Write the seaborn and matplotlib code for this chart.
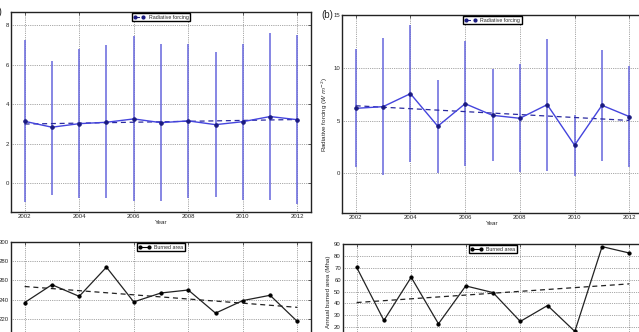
import numpy as np
import matplotlib
matplotlib.use('Agg')
import matplotlib.pyplot as plt
from matplotlib.lines import Line2D
import seaborn as sns

years = list(range(2002, 2013))

# (a) radiative forcing, with upper / lower ends of the error bars
rf_a = [3.14, 2.84, 3.02, 3.09, 3.26, 3.07, 3.16, 2.97, 3.12, 3.38, 3.22]
rf_a_hi = [7.27, 6.19, 6.80, 6.99, 7.46, 7.04, 7.05, 6.67, 7.07, 7.61, 7.51]
rf_a_lo = [-0.95, -0.57, -0.74, -0.76, -0.91, -0.88, -0.73, -0.69, -0.86, -0.84, -1.06]

# (b) radiative forcing
rf_b = [6.16, 6.32, 7.55, 4.47, 6.60, 5.50, 5.22, 6.51, 2.67, 6.45, 5.38]
rf_b_hi = [11.76, 12.80, 14.03, 8.84, 12.52, 9.91, 10.35, 12.74, 5.50, 11.70, 10.19]
rf_b_lo = [0.60, -0.13, 1.04, 0.00, 0.66, 1.13, 0.09, 0.22, -0.22, 1.19, 0.57]

# burned area, lower panels
burn_a = [236.9, 255.5, 243.4, 273.8, 237.6, 246.9, 250.0, 225.9, 239.0, 244.5, 217.2]
burn_b = [70.4, 25.6, 62.0, 22.8, 54.7, 49.1, 24.8, 38.2, 16.4, 87.8, 82.4]

sns.set_style('white', {'xtick.direction': 'in', 'ytick.direction': 'in'})
plt.rcParams['font.family'] = ['Liberation Sans', 'DejaVu Sans']
plt.rcParams['mathtext.fontset'] = 'dejavusans'

W, H = 639, 332
fig = plt.figure(figsize=(W / 100, H / 100), dpi=100)


def box(left, top, width, height):
    return [left / W, (H - top - height) / H, width / W, height / H]


def style(ax, ylim, yticks):
    ax.set_xlim(2001.5, 2012.5)
    ax.set_ylim(*ylim)
    ax.set_xticks(range(2002, 2013, 2))
    ax.set_yticks(yticks)
    ax.grid(True, color='#555555', linestyle=':', linewidth=0.5)
    ax.tick_params(labelsize=4.3, pad=1.5, length=2.5, width=0.5,
                   direction='in', top=True, right=True)
    for s in ax.spines.values():
        s.set_color('#222222')
        s.set_linewidth(1.0)


def forcing_panel(ax, vals, hi, lo, ylim, yticks, tag):
    vals = np.array(vals)
    yerr = [vals - np.array(lo), np.array(hi) - vals]
    ax.errorbar(years, vals, yerr=yerr, fmt='none', ecolor='#6666dd',
                elinewidth=1.1, capsize=0, zorder=2)
    sns.lineplot(x=years, y=vals, ax=ax, color='#4444dd', linewidth=1.0,
                 marker='o', markersize=2.5, markerfacecolor='#1a1a80',
                 markeredgecolor='#1a1a80', zorder=3)
    sns.regplot(x=years, y=vals, ax=ax, scatter=False, ci=None, truncate=True,
                line_kws=dict(color='#2a2aa0', linestyle='--', linewidth=0.9, dashes=(4, 3)))
    style(ax, ylim, yticks)
    ax.set_xlabel('Year', fontsize=4.5, labelpad=1)
    ax.set_ylabel(r'Radiative forcing ($W\ m^{-2}$)', fontsize=4.5, labelpad=2)
    h = Line2D([], [], color='#1a1a80', linestyle='--', dashes=(4, 3), linewidth=0.8,
               marker='o', markersize=2)
    ax.legend([h], ['Radiative forcing'], loc='upper center', fontsize=3.8,
              frameon=True, fancybox=False, edgecolor='black', framealpha=1,
              borderpad=0.3, borderaxespad=0.25, handlelength=2.2, numpoints=2)
    ax.text(-9 / ax.bbox.width, 1.0, tag, transform=ax.transAxes, fontsize=7,
            ha='right', va='center')


def burn_panel(ax, vals, ylim, yticks, ylabel):
    sns.lineplot(x=years, y=vals, ax=ax, color='#222222', linewidth=0.9,
                 marker='o', markersize=2.3, markerfacecolor='black',
                 markeredgecolor='black')
    sns.regplot(x=years, y=vals, ax=ax, scatter=False, ci=None, truncate=True,
                line_kws=dict(color='#222222', linestyle='--', linewidth=0.9, dashes=(4, 3)))
    style(ax, ylim, yticks)
    ax.set_xlabel('')
    ax.set_ylabel(ylabel, fontsize=4.5, labelpad=2)
    h = Line2D([], [], color='black', linewidth=0.8, marker='o', markersize=2)
    ax.legend([h], ['Burned area'], loc='upper center', fontsize=3.8,
              frameon=True, fancybox=False, edgecolor='black', framealpha=1,
              borderpad=0.3, borderaxespad=0.25, handlelength=2.2, numpoints=2)


ax1 = fig.add_axes(box(11, 12, 300, 200))
ax2 = fig.add_axes(box(342, 15, 301, 198))
ax3 = fig.add_axes(box(11, 242, 300, 96))
ax4 = fig.add_axes(box(343, 244, 300, 95))

forcing_panel(ax1, rf_a, rf_a_hi, rf_a_lo, (-1.45, 8.67), [0, 2, 4, 6, 8], '(a)')
forcing_panel(ax2, rf_b, rf_b_hi, rf_b_lo, (-3.75, 15), [0, 5, 10, 15], '(b)')
burn_panel(ax3, burn_a, (200, 300), [200, 220, 240, 260, 280, 300], 'Annual burned area (Mha)')
burn_panel(ax4, burn_b, (10, 90), [10, 20, 30, 40, 50, 60, 70, 80, 90], 'Annual burned area (Mha)')

fig.savefig('out.png', dpi=100)
